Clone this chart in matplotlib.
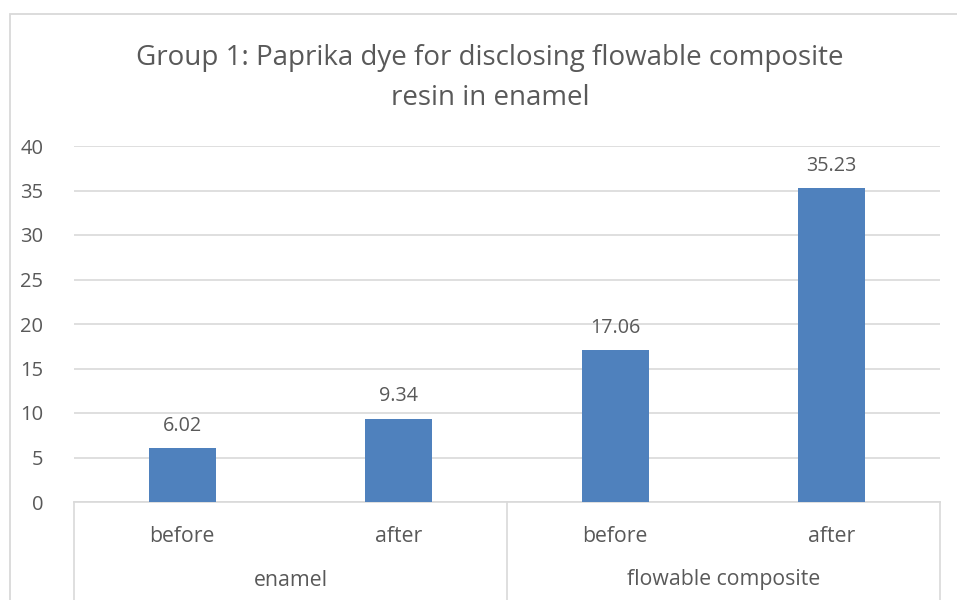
import matplotlib
matplotlib.use("Agg")
import matplotlib.pyplot as plt
from matplotlib.patches import Rectangle
import matplotlib.transforms as mtransforms

title = "Group 1: Paprika dye for disclosing flowable composite\nresin in enamel"
sub_labels = ["before", "after", "before", "after"]
groups = ["enamel", "flowable composite"]
values = [6.02, 9.34, 17.06, 35.23]
yticks = [0, 5, 10, 15, 20, 25, 30, 35, 40]

TEXT = "#595959"
GRID = "#d9d9d9"
BAR = "#4f81bd"
FONT = "Open Sans"

W, H = 957, 600
fig = plt.figure(figsize=(W / 100, H / 100), dpi=100)
ax = fig.add_axes([74 / W, 1 - 502 / H, (940 - 74) / W, (502 - 146) / H])

# outer border
fig.add_artist(Rectangle((10 / W, -0.1), 1.2, 1 - 14 / H + 0.1, transform=fig.transFigure,
                         fill=False, edgecolor=GRID, linewidth=1.3))

x = list(range(len(values)))
ax.bar(x, values, width=0.31, color=BAR, zorder=3)
for xi, v in zip(x, values):
    ax.annotate(f"{v:.2f}", (xi, v), xytext=(0, 9), textcoords="offset points",
                ha="center", va="bottom", fontsize=14.2, color=TEXT, family=FONT)

ax.set_xlim(-0.5, len(values) - 0.5)
ax.set_ylim(0, 40)
ax.set_yticks(yticks)
ax.set_yticklabels([str(t) for t in yticks], fontsize=14.5, color=TEXT, family=FONT)
ax.yaxis.grid(True, color=GRID, linewidth=1.2, zorder=0)
ax.tick_params(axis="y", length=0, pad=22)
ax.tick_params(axis="x", length=0, bottom=False, labelbottom=False)
for s in ["top", "right", "left"]:
    ax.spines[s].set_visible(False)
ax.spines["bottom"].set_color(GRID)
ax.spines["bottom"].set_linewidth(1.2)

trans = mtransforms.blended_transform_factory(ax.transData, ax.transAxes)
ax_h_px = 502 - 146
def ypx(p):  # pixels below the axis -> axes coords
    return -p / ax_h_px

for xi, lab in zip(x, sub_labels):
    ax.text(xi, ypx(34), lab, transform=trans, ha="center", va="center",
            fontsize=15.3, color=TEXT, family=FONT, clip_on=False)
for gi, g in enumerate(groups):
    ax.text(2 * gi + 0.5, ypx(78), g, transform=trans, ha="center", va="center",
            fontsize=15.3, color=TEXT, family=FONT, clip_on=False)
for xb in [-0.5, 1.5, 3.5]:
    ax.plot([xb, xb], [0, ypx(110)], transform=trans, color=GRID, linewidth=1.2,
            clip_on=False)

fig.text(490 / W, 1 - 78 / H, title, ha="center", va="center", fontsize=20,
         color=TEXT, family=FONT, linespacing=1.55)

fig.savefig("out.png", dpi=100)
